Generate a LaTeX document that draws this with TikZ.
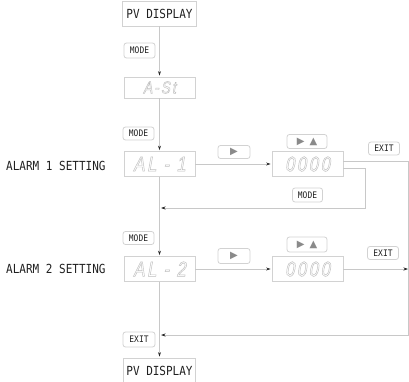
\documentclass[tikz,border=0pt]{standalone}
\usepackage{fontspec}
\usetikzlibrary{arrows.meta}
\newfontfamily\lblfont[FakeStretch=0.88]{DejaVu Sans Mono}
\newfontfamily\segfont[FakeStretch=0.8,FakeSlant=0.18,LetterSpace=12]{Liberation Sans}
\newfontfamily\symfont{DejaVu Sans}
\definecolor{ln}{HTML}{C8C8C8}
\definecolor{bx}{HTML}{D2D2D2}
\definecolor{tx}{HTML}{202020}
\definecolor{seg}{HTML}{BDBDBD}
\definecolor{tri}{HTML}{8A8A8A}
\newcommand{\segtxt}[2]{{\segfont\fontsize{#1}{#1}\selectfont\color{seg}\special{pdf:literal direct 1 Tr 0.45 w}#2\special{pdf:literal direct 0 Tr}}}
\newcommand{\trir}{{\symfont\color{tri}\fontsize{10}{10}\selectfont ▶}}
\newcommand{\triu}{{\symfont\color{tri}\fontsize{10}{10}\selectfont ▲}}
\begin{document}
\begin{tikzpicture}[x=1pt,y=-1pt,
  disp/.style={draw=bx, line width=0.8pt, minimum width=71pt, minimum height=25pt, inner sep=0pt, fill=white},
  btn/.style={draw=bx, rounded corners=2.5pt, line width=0.8pt, minimum width=31pt, minimum height=13pt, inner sep=0pt, fill=white, font=\lblfont\fontsize{9}{9}\selectfont, text=tx},
  lbl/.style={font=\lblfont\fontsize{12.5}{12.5}\selectfont, text=tx, inner sep=0pt},
  conn/.style={draw=ln, line width=0.8pt},
  arr/.style={conn, -{Stealth[length=4.5pt,width=3pt,color=black!85]}, shorten >=1pt}]
\useasboundingbox (0,0) rectangle (409,382);
% main column
\node[lbl, draw=bx, line width=0.8pt, minimum width=74pt, minimum height=25pt] (pv1) at (159.5,13.5) {PV DISPLAY};
\node[btn, minimum height=15pt] (m1) at (139.5,50.5) {MODE};
\node[disp, minimum height=21pt] (ast) at (159.5,87.5) {\segtxt{17}{A-St}};
\node[btn] (m2) at (138.5,133.5) {MODE};
\node[disp] (al1) at (159.5,164) {\segtxt{21}{AL - 1}};
\node[lbl, anchor=west] (t1) at (6,166) {ALARM 1 SETTING};
\node[btn, minimum width=32pt] (r1) at (234,152) {\trir};
\node[disp] (d1) at (307.5,164) {\segtxt{21}{0000}};
\node[btn, minimum width=40pt, minimum height=14pt] (ru1) at (307,141.5) {\trir\hspace{5pt}\triu};
\node[btn] (e1) at (384,148.5) {EXIT};
\node[btn, minimum width=30pt, minimum height=14pt] (m3) at (307.5,195) {MODE};
\node[btn] (m4) at (138.5,238) {MODE};
\node[disp] (al2) at (159.5,269) {\segtxt{21}{AL - 2}};
\node[lbl, anchor=west] (t2) at (6,269) {ALARM 2 SETTING};
\node[btn, minimum width=32pt, minimum height=15pt] (r2) at (234,256) {\trir};
\node[disp] (d2) at (307.5,269) {\segtxt{21}{0000}};
\node[btn, minimum width=40pt, minimum height=15pt] (ru2) at (307,244.5) {\trir\hspace{5pt}\triu};
\node[btn] (e2) at (383,253) {EXIT};
\node[btn, minimum width=32pt, minimum height=15pt] (e3) at (139,339.5) {EXIT};
\node[lbl, draw=bx, line width=0.8pt, minimum width=72pt, minimum height=25pt] (pv2) at (159.5,370.5) {PV DISPLAY};
% helper coordinates
\coordinate (c1) at (408,161);
\coordinate (j2) at (160,335);
\coordinate (c2) at (365,208);
\coordinate (j1) at (160,208);
% connectors
\draw[arr] (pv1) -- (ast);
\draw[arr] (ast) -- (al1);
\draw[arr] (al1) -- (al2);
\draw[arr] (al2) -- (pv2);
\draw[arr] (al1.east) -- (d1.west);
\draw[arr] ([yshift=3pt]d1.east) -- (c1) -- (c1 |- j2) -- (j2);
\draw[arr] ([yshift=-4pt]d1.east) -| (c2) -- (j1);
\draw[arr] (al2.east) -- (d2.west);
\draw[arr, shorten >=0pt] (d2.east) -- (d2.east -| c1);
\end{tikzpicture}
\end{document}
